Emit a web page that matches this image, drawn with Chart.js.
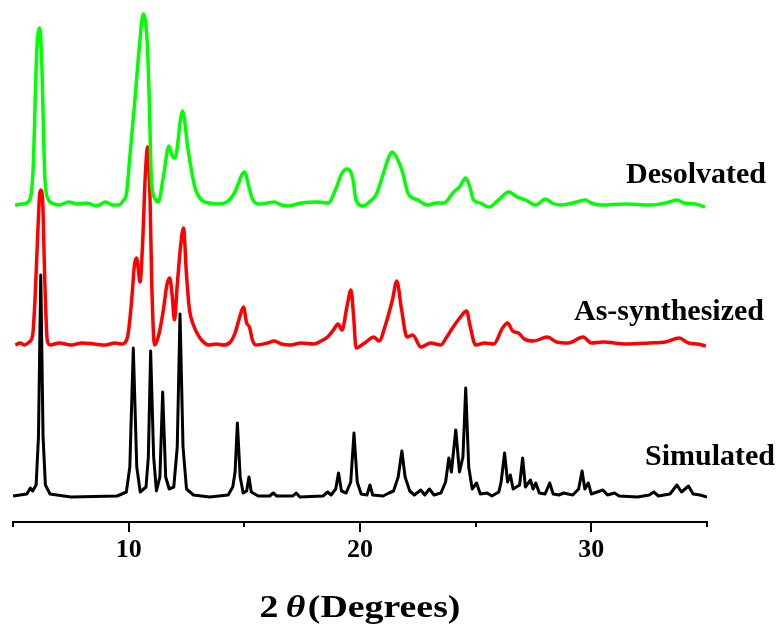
<!DOCTYPE html>
<html>
<head>
<meta charset="utf-8">
<script src="https://cdn.jsdelivr.net/npm/chart.js@4.4.1/dist/chart.umd.min.js"></script>
<style>
  html, body { margin: 0; padding: 0; background: #fff; }
  #wrap { width: 780px; height: 628px; position: relative; }
</style>
</head>
<body>
<div id="wrap"><canvas id="xrd"></canvas></div>
<script>
// --- data: [2theta, counts above own baseline] ---
const desolvated = [
  [5.09,0],[5.4,1],[5.65,3],[5.82,18],[5.89,48],[5.96,105],[6.03,155],[6.15,177],[6.25,138],[6.32,72],
  [6.39,22],[6.54,5],[6.68,2],[7.0,0],[7.4,3],[7.8,1],[8.2,2],[8.6,-1],[9.0,3],[9.3,0],[9.57,0],[9.75,4],
  [9.91,12],[10.05,48],[10.27,105],[10.45,155],[10.63,191],[10.73,183],[10.82,155],[10.89,105],[10.99,22],
  [11.15,6],[11.28,3],[11.5,28],[11.74,59],[11.87,50],[12.0,47],[12.33,94],[12.57,55],[12.86,18],[13.15,5],
  [13.5,2],[13.87,1],[14.3,4],[14.57,12],[15.01,33],[15.2,18],[15.37,5],[15.65,1],[16.0,2],[16.29,3],[16.6,0],
  [16.9,-1],[17.46,2],[18.19,3],[18.62,2],[18.97,17],[19.18,30],[19.4,36],[19.55,35],[19.7,25],[19.83,5],
  [20.13,-1],[20.45,4],[20.69,10],[20.99,30],[21.2,45],[21.38,53],[21.64,45],[21.85,32],[22.07,12],[22.5,5],
  [22.93,0],[23.3,2],[23.62,2],[24.05,13],[24.3,18],[24.57,27],[24.75,18],[24.91,5],[25.2,2],[25.56,-2],
  [25.99,5],[26.42,13],[26.8,8],[27.16,5],[27.59,0],[28.02,6],[28.3,2],[28.66,0],[29.2,2],[29.74,5],[30.0,2],
  [30.39,0],[31.5,1],[32.54,0],[33.2,2],[33.71,5],[34.0,2],[34.5,1],[34.91,-2]
];

const asSynthesized = [
  [5.1,0],[5.3,2],[5.5,0],[5.7,3],[5.85,10],[5.95,45],[6.05,100],[6.15,150],[6.2,155],[6.28,145],[6.38,60],
  [6.48,5],[6.6,0],[7.0,2],[7.5,0],[8.0,2],[8.5,1],[9.0,0],[9.4,2],[9.7,1],[9.91,5],[10.0,15],[10.13,45],
  [10.25,80],[10.34,87],[10.42,75],[10.49,63],[10.6,100],[10.72,170],[10.82,198],[10.92,150],[11.0,60],
  [11.12,0],[11.3,10],[11.5,35],[11.65,60],[11.77,67],[11.88,50],[11.98,25],[12.1,60],[12.25,100],[12.37,117],
  [12.5,70],[12.63,35],[12.8,20],[13.0,10],[13.15,5],[13.45,0],[13.8,1],[14.1,0],[14.4,3],[14.6,12],[14.8,28],
  [14.96,38],[15.1,22],[15.22,18],[15.35,5],[15.5,0],[16.0,2],[16.29,4],[16.6,1],[17.0,0],[17.46,2],[18.0,1],
  [18.32,4],[18.6,8],[18.85,15],[19.05,21],[19.22,15],[19.45,40],[19.61,55],[19.72,30],[19.83,-3],[20.2,2],
  [20.6,8],[20.82,4],[21.1,20],[21.4,45],[21.59,64],[21.8,35],[22.03,8],[22.28,10],[22.63,-2],[23.06,2],
  [23.49,0],[23.75,8],[23.97,16],[24.31,27],[24.61,34],[24.75,20],[25.0,0],[25.4,2],[25.78,1],[26.16,17],
  [26.38,22],[26.6,14],[26.85,12],[27.1,6],[27.5,4],[28.1,8],[28.5,3],[29.0,2],[29.65,8],[30.0,2],[30.5,3],
  [31.5,1],[32.5,2],[33.2,3],[33.8,7],[34.2,2],[34.6,1],[34.95,-1]
];

const simulated = [
  [5.0,1],[5.6,3],[5.75,9],[5.85,6],[6.0,12],[6.1,60],[6.2,222],[6.3,60],[6.4,12],[6.6,3],[7.5,0],[9.5,1],
  [9.9,5],[10.05,30],[10.2,149],[10.35,30],[10.5,5],[10.75,10],[10.85,40],[10.95,146],[11.08,40],[11.2,6],
  [11.35,20],[11.47,105],[11.6,20],[11.75,8],[11.95,10],[12.1,50],[12.22,183],[12.35,50],[12.5,8],[12.8,2],
  [13.5,0],[14.3,2],[14.5,10],[14.6,25],[14.7,74],[14.82,20],[14.95,4],[15.1,6],[15.2,20],[15.3,5],[15.6,1],
  [16.1,1],[16.25,4],[16.4,1],[17.1,1],[17.24,4],[17.4,0],[18.4,1],[18.6,5],[18.75,2],[18.95,8],[19.07,24],
  [19.2,6],[19.4,4],[19.6,15],[19.74,64],[19.88,15],[20.05,3],[20.3,2],[20.43,12],[20.55,2],[21.0,1],
  [21.25,4],[21.45,6],[21.65,20],[21.81,46],[21.95,20],[22.15,6],[22.35,2],[22.63,7],[22.8,2],[23.0,8],
  [23.2,2],[23.5,4],[23.7,15],[23.84,39],[23.95,25],[24.14,67],[24.3,25],[24.45,40],[24.57,109],[24.7,30],
  [24.85,8],[25.04,14],[25.2,3],[25.5,4],[25.7,1],[26.0,5],[26.1,15],[26.25,44],[26.38,15],[26.5,22],
  [26.62,8],[26.9,12],[27.03,39],[27.15,10],[27.37,17],[27.48,8],[27.6,14],[27.75,4],[28.0,3],[28.2,14],
  [28.35,3],[28.6,2],[28.8,4],[29.2,2],[29.45,8],[29.6,26],[29.72,8],[29.87,14],[30.0,3],[30.5,7],[30.7,2],
  [31.0,4],[31.2,1],[32.0,0],[32.5,2],[32.7,5],[32.9,1],[33.4,3],[33.7,12],[33.9,5],[34.2,11],[34.4,3],
  [34.7,2],[35.0,0]
];

const seriesNames = ['Desolvated', 'As-synthesized', 'Simulated'];
const seriesOffsets = [317, 177, 25];   // vertical stacking of the patterns
const tickValues = [10, 20, 30];
const xTitle = ['2', 'θ', '(Degrees)'];

// ---- style ----
const colors = ['#00ff00', '#ff0000', '#000000'];
const lineWidths = [3.5, 3.5, 3];
const labelLift = [22, 25, 32];
const labelRight = [766, 764, 775];
const serif = "'Liberation Serif', 'Times New Roman', serif";

const patterns = [desolvated, asSynthesized, simulated];

const datasets = patterns.map((pts, i) => ({
  label: seriesNames[i],
  data: pts.map(p => ({ x: p[0], y: p[1] + seriesOffsets[i] })),
  borderColor: colors[i],
  borderWidth: lineWidths[i],
  pointRadius: 0,
  cubicInterpolationMode: i < 2 ? 'monotone' : 'default',
  tension: 0,
  borderJoinStyle: 'round',
  fill: false
}));

// ticks, curve names and axis title
const decorPlugin = {
  id: 'decor',
  afterDraw(chart) {
    const ctx = chart.ctx;
    const xs = chart.scales.x;
    const ys = chart.scales.y;
    const bottom = chart.chartArea.bottom;
    ctx.save();
    ctx.strokeStyle = '#000';
    ctx.lineWidth = 2;
    for (let v = 5; v <= 35; v += 5) {
      const px = Math.round(xs.getPixelForValue(v));
      const len = tickValues.includes(v) ? 10 : 5;
      ctx.beginPath();
      ctx.moveTo(px, bottom);
      ctx.lineTo(px, bottom + len);
      ctx.stroke();
    }

    ctx.fillStyle = '#000';
    ctx.font = 'bold 30px ' + serif;
    ctx.textAlign = 'right';
    ctx.textBaseline = 'alphabetic';
    seriesNames.forEach((name, i) => {
      const y = ys.getPixelForValue(seriesOffsets[i]) - labelLift[i];
      ctx.fillText(name, labelRight[i], y);
    });

    // title: 2θ(Degrees) with italic theta
    const cx = (chart.chartArea.left + chart.chartArea.right) / 2;
    const fonts = ['bold 31px ' + serif, 'italic bold 31px ' + serif, 'bold 31px ' + serif];
    const gaps = [6, 2, 0];
    let widths = xTitle.map((t, i) => { ctx.font = fonts[i]; return ctx.measureText(t).width; });
    const total = widths.reduce((a, b) => a + b, 0) + gaps.reduce((a, b) => a + b, 0);
    ctx.translate(cx, 617);
    ctx.scale(1.22, 1);
    ctx.textAlign = 'left';
    let x = -total / 2;
    xTitle.forEach((t, i) => {
      ctx.font = fonts[i];
      ctx.fillText(t, x, 0);
      x += widths[i] + gaps[i];
    });
    ctx.restore();
  }
};

new Chart(document.getElementById('xrd'), {
  type: 'line',
  data: { datasets: datasets },
  options: {
    responsive: true,
    maintainAspectRatio: false,
    animation: false,
    layout: { padding: { left: 11, right: 73, top: 0, bottom: 0 } },
    plugins: { legend: { display: false }, tooltip: { enabled: false } },
    scales: {
      x: {
        type: 'linear',
        min: 5,
        max: 35,
        border: { display: true, color: '#000', width: 2 },
        grid: { display: true, drawOnChartArea: false, drawTicks: false },
        ticks: {
          stepSize: 5,
          autoSkip: false,
          maxRotation: 0,
          padding: 13,
          color: '#000',
          font: { family: serif, size: 26, weight: 'bold' },
          callback: v => tickValues.includes(v) ? String(v) : ''
        },
        afterFit: scale => { scale.height = 106; }
      },
      y: {
        display: false,
        min: 0,
        max: 522
      }
    }
  },
  plugins: [decorPlugin]
});
</script>
</body>
</html>
